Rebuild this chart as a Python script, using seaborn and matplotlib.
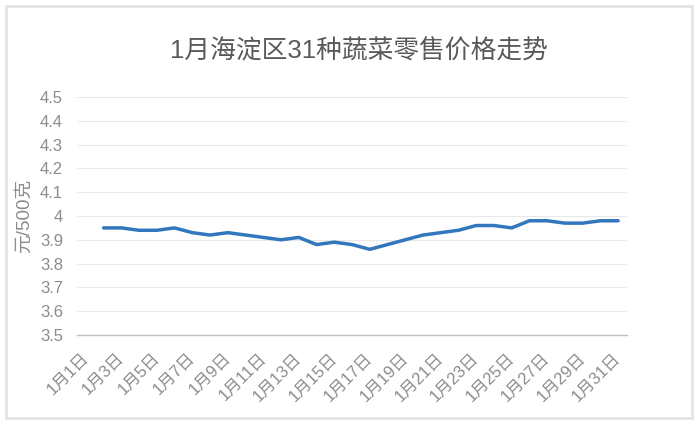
import numpy as np
import pandas as pd
import seaborn as sns
import matplotlib.pyplot as plt
from matplotlib.patches import Rectangle
from matplotlib.transforms import ScaledTranslation

# data (day 1 has no value)
days = list(range(2, 32))
prices = [3.95, 3.95, 3.94, 3.94, 3.95, 3.93, 3.92, 3.93, 3.92, 3.91,
          3.90, 3.91, 3.88, 3.89, 3.88, 3.86, 3.88, 3.90, 3.92, 3.93,
          3.94, 3.96, 3.96, 3.95, 3.98, 3.98, 3.97, 3.97, 3.98, 3.98]
label_days = list(range(1, 32, 2))
x_labels = [f'1月{d}日' for d in label_days]
y_ticks = [3.5, 3.6, 3.7, 3.8, 3.9, 4.0, 4.1, 4.2, 4.3, 4.4, 4.5]
y_labels = ['3.5', '3.6', '3.7', '3.8', '3.9', '4', '4.1', '4.2', '4.3', '4.4', '4.5']

df = pd.DataFrame({'day': days, 'price': prices})

sns.set_style('white')
plt.rcParams['font.family'] = ['Liberation Sans', 'Noto Sans CJK SC', 'DejaVu Sans']

fig = plt.figure(figsize=(7, 4.25), dpi=100)
ax = fig.add_axes([77 / 700, 1 - 335 / 425, 550 / 700, 238 / 425])

sns.lineplot(data=df, x='day', y='price', ax=ax, color='#3276bd', linewidth=2.5)

ax.set_xlim(0.5, 31.5)
ax.set_ylim(3.5, 4.5)
ax.set_yticks(y_ticks)
ax.set_yticklabels(y_labels)
for y in y_ticks[1:]:
    ax.axhline(y, color='#e8e8e8', linewidth=0.8, zorder=0)

# tick marks between categories, labels on odd days
ax.set_xticks(np.arange(0.5, 31, 2))
ax.set_xticklabels([])
ax.set_xticks(label_days, minor=True)
ax.set_xticklabels(x_labels, minor=True, rotation=45, ha='right',
                   rotation_mode='anchor', va='top')
ax.tick_params(axis='x', which='major', direction='in', length=4, color='#bfbfbf', width=0.8)
ax.tick_params(axis='x', which='minor', length=0, pad=11, labelsize=12, labelcolor='#8c8c8c')
ax.tick_params(axis='y', length=0, pad=10, labelsize=12, labelcolor='#8c8c8c')
offset = ScaledTranslation(-5 / 100, 0, fig.dpi_scale_trans)
for lab in ax.get_xticklabels(minor=True):
    lab.set_transform(lab.get_transform() + offset)

for side in ['top', 'right', 'left']:
    ax.spines[side].set_visible(False)
ax.spines['bottom'].set_color('#bfbfbf')
ax.spines['bottom'].set_linewidth(1)

ax.set_xlabel('')
ax.set_ylabel('元/500克', fontsize=13.5, color='#8c8c8c', va='center')
ax.yaxis.set_label_coords(-53 / 550, 0.5)

fig.suptitle('1月海淀区31种蔬菜零售价格走势', x=359 / 700, y=1 - 51 / 425, va='center',
             fontsize=18.5, color='#595959')

# light frame around the chart area
fig.patches.append(Rectangle((6 / 700, 7 / 425), 686 / 700, 412 / 425, transform=fig.transFigure,
                             fill=False, edgecolor='#e3e3e3', linewidth=2))

plt.savefig('out.png')
